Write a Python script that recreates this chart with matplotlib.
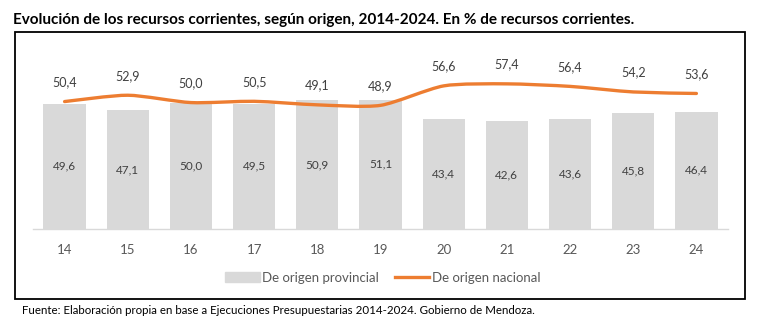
import matplotlib
matplotlib.use("Agg")
import matplotlib.pyplot as plt
from matplotlib.path import Path
from matplotlib.patches import PathPatch, Rectangle
from matplotlib.lines import Line2D
import numpy as np

plt.rcParams['font.family'] = ['Lato', 'DejaVu Sans']

years = ["14", "15", "16", "17", "18", "19", "20", "21", "22", "23", "24"]
provincial = [49.6, 47.1, 50.0, 49.5, 50.9, 51.1, 43.4, 42.6, 43.6, 45.8, 46.4]
nacional = [50.4, 52.9, 50.0, 50.5, 49.1, 48.9, 56.6, 57.4, 56.4, 54.2, 53.6]

title = "Evolución de los recursos corrientes, según origen, 2014-2024. En % de recursos corrientes."
source = "Fuente: Elaboración propia en base a Ejecuciones Presupuestarias 2014-2024. Gobierno de Mendoza."

BAR_COLOR = "#D9D9D9"
LINE_COLOR = "#ED7D31"
TEXT_COLOR = "#595959"


def smooth_path(xs, ys, tension=0.12):
    """Catmull-Rom style cubic Bezier path through the given points."""
    pts = np.column_stack([xs, ys]).astype(float)
    n = len(pts)
    verts = [tuple(pts[0])]
    codes = [Path.MOVETO]
    for i in range(n - 1):
        p0 = pts[i - 1] if i > 0 else pts[i]
        p1 = pts[i]
        p2 = pts[i + 1]
        p3 = pts[i + 2] if i + 2 < n else pts[i + 1]
        c1 = p1 + (p2 - p0) * tension
        c2 = p2 - (p3 - p1) * tension
        verts += [tuple(c1), tuple(c2), tuple(p2)]
        codes += [Path.CURVE4] * 3
    return Path(verts, codes)


fig = plt.figure(figsize=(7.68, 3.25), dpi=100)
W, H = 768, 325

# outer frame
fig.patches.append(Rectangle((15 / W, 1 - 299 / H), (745 - 15) / W, (299 - 32) / H,
                             transform=fig.transFigure, fill=False,
                             edgecolor="black", linewidth=1.3))

fig.text(13 / W, 1 - 20 / H, title, fontsize=11, fontweight="bold",
         ha="left", va="center", color="black")
fig.text(22 / W, 1 - 310 / H, source, fontsize=8.3, ha="left", va="center",
         color="black")

ax = fig.add_axes([33 / W, 1 - 229 / H, (728 - 33) / W, (229 - 52) / H])
x = np.arange(len(years))
ax.bar(x, provincial, width=0.67, color=BAR_COLOR, zorder=1)
ax.add_patch(PathPatch(smooth_path(x, nacional), facecolor="none",
                       edgecolor=LINE_COLOR, linewidth=2.4, capstyle="round",
                       zorder=3))

for xi, v in zip(x, provincial):
    ax.text(xi, v / 2, f"{v:.1f}".replace(".", ","), ha="center", va="center",
            fontsize=8.5, color="#404040", zorder=4)
for xi, v in zip(x, nacional):
    ax.annotate(f"{v:.1f}".replace(".", ","), (xi, v), xytext=(0, 14),
                textcoords="offset points", ha="center", va="center",
                fontsize=9, color="#404040", zorder=4)

ax.set_xlim(-0.5, len(years) - 0.5)
ax.set_ylim(0, 70)
ax.set_xticks(x)
ax.set_xticklabels(years, fontsize=9.5, color=TEXT_COLOR)
ax.tick_params(axis="x", length=0, pad=11)
ax.set_yticks([])
for side in ["top", "right", "left"]:
    ax.spines[side].set_visible(False)
ax.spines["bottom"].set_color(BAR_COLOR)
ax.spines["bottom"].set_linewidth(1)

handles = [Rectangle((0, 0), 1, 1, color=BAR_COLOR),
           Line2D([0], [0], color=LINE_COLOR, linewidth=2.4)]
fig.legend(handles, ["De origen provincial", "De origen nacional"],
           loc="center", bbox_to_anchor=(383 / W, 1 - 278 / H), ncol=2,
           frameon=False, fontsize=9.5, labelcolor=TEXT_COLOR,
           handlelength=2.6, handletextpad=0.2, columnspacing=1.2,
           handleheight=0.8)

fig.savefig("out.png", dpi=100)
